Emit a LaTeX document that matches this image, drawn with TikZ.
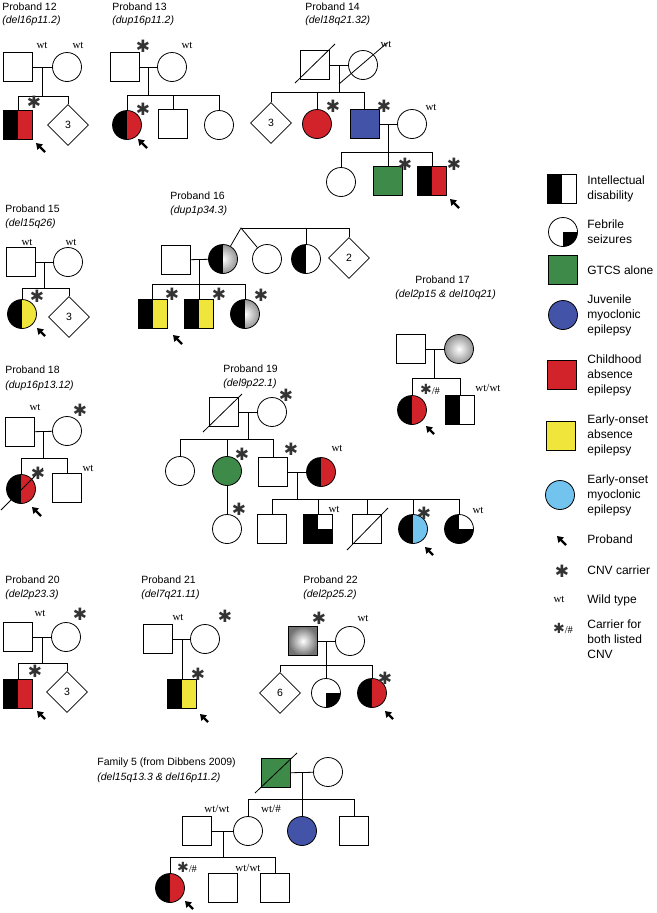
\documentclass[tikz,border=0pt]{standalone}
\usepackage{fontspec}
\setmainfont{Liberation Sans}
\newfontfamily\wtfont{Liberation Serif}
\newfontfamily\symfont{DejaVu Sans}
\usetikzlibrary{shapes.geometric,arrows.meta,calc}
\definecolor{cae}{HTML}{D2232A}
\definecolor{gtcs}{HTML}{3E8A48}
\definecolor{jme}{HTML}{4253A8}
\definecolor{eoae}{HTML}{F0E53A}
\definecolor{eome}{HTML}{72C3EE}
\definecolor{astc}{HTML}{333333}
\newcommand{\AST}{{\symfont\color{astc}✱}}
\newcommand{\ASTH}{{\symfont\fontsize{14}{14}\selectfont\color{astc}✱}{\wtfont\fontsize{10.5}{12}\selectfont/\#}}
\begin{document}
\begin{tikzpicture}[x=1pt,y=-1pt,line width=0.8pt,
  ind/.style={draw, line width=0.8pt, inner sep=0pt, minimum size=29pt, font=\fontsize{10.5}{12}\selectfont},
  sq/.style={ind, rectangle},
  ci/.style={ind, circle},
  di/.style={ind, diamond, minimum size=41pt},
  halves/.style 2 args={path picture={
     \fill[#1] (path picture bounding box.south west) rectangle (path picture bounding box.north);
     \fill[#2] (path picture bounding box.south) rectangle (path picture bounding box.north east);}},
  quart/.style={path picture={
     \fill[black] (path picture bounding box.center) rectangle (path picture bounding box.south east);}},
  idfeb/.style={path picture={
     \fill[black] (path picture bounding box.south west) rectangle (path picture bounding box.north);
     \fill[black] (path picture bounding box.center) rectangle (path picture bounding box.south east);}},
  leftgray/.style={path picture={
     \shade[inner color=white, outer color=gray!85] (path picture bounding box.south west) rectangle (path picture bounding box.north east);
     \fill[black] (path picture bounding box.south west) rectangle (path picture bounding box.north);}},
  ttl/.style={anchor=base west, inner sep=0pt, font=\fontsize{10.5}{12}\selectfont},
  cnv/.style={anchor=base west, inner sep=0pt, font=\fontsize{10.5}{12}\selectfont\itshape},
  wt/.style={inner sep=0pt, font=\wtfont\fontsize{11}{12}\selectfont},
  ast/.style={inner sep=0pt, font=\fontsize{17}{17}\selectfont},
  lg/.style={anchor=west, align=left, inner sep=0pt, font=\fontsize{12}{15}\selectfont},
  parrow/.style={line width=2.4pt, -{Triangle[length=6pt,width=7.5pt]}}
]
\useasboundingbox (0,0) rectangle (656,913);

% ---------------- Proband 12
\node[ttl] (t12) at (2,10) {Proband 12};
\node[cnv] (v12) at (2,23.5) {(del16p11.2)};
\node[sq] (f12) at (18,67) {};
\node[ci] (m12) at (67,67) {};
\node[wt] (w12a) at (42,45) {wt};
\node[wt] (w12b) at (78,45) {wt};
\draw (f12) -- (m12);
\coordinate (j12) at (42.5,67); \coordinate (s12) at (42.5,96);
\draw (j12) -- (s12);
\node[sq, halves={black}{cae}] (c12a) at (18,125) {};
\node[di] (c12b) at (68,125) {3};
\draw (c12a) -- (c12a|-s12) -- (c12b|-s12) -- (c12b);
\node[ast] (a12) at (34,102) {\AST};
\draw[parrow] (45,152) -- (36,143);

% ---------------- Proband 13
\node[ttl] (t13) at (112,10) {Proband 13};
\node[cnv] (v13) at (112,23.5) {(dup16p11.2)};
\node[sq] (f13) at (124.5,67) {};
\node[ci] (m13) at (172,67) {};
\node[ast] (a13a) at (143,46) {\AST};
\node[wt] (w13) at (187,45) {wt};
\draw (f13) -- (m13);
\coordinate (j13) at (148.5,67); \coordinate (s13) at (148.5,95);
\draw (j13) -- (s13);
\node[ci, halves={black}{cae}] (c13a) at (127,125) {};
\node[sq] (c13b) at (173,124) {};
\node[ci] (c13c) at (219,125) {};
\draw (c13a) -- (c13a|-s13) -- (c13c|-s13) -- (c13c);
\draw (c13b) -- (c13b|-s13);
\node[ast] (a13b) at (143,109) {\AST};
\draw[parrow] (147,148) -- (138,139);

% ---------------- Proband 14
\node[ttl] (t14) at (305,10) {Proband 14};
\node[cnv] (v14) at (305,23.5) {(del18q21.32)};
\node[sq] (f14) at (315,65) {};
\node[ci] (m14) at (363,65) {};
\draw ($(f14)+(-20,18)$) -- ($(f14)+(20,-21)$);
\draw ($(m14)+(-24,19)$) -- ($(m14)+(24,-22)$);
\node[wt] (w14a) at (386,44) {wt};
\draw (f14) -- (m14);
\coordinate (j14) at (339,65); \coordinate (s14) at (339,92);
\draw (j14) -- (s14);
\node[di] (c14a) at (271,123) {3};
\node[ci, fill=cae] (c14b) at (317,124) {};
\node[sq, fill=jme] (c14c) at (364.5,124) {};
\draw (c14a) -- (c14a|-s14) -- (c14c|-s14) -- (c14c);
\draw (c14b) -- (c14b|-s14);
\node[ast] (a14b) at (333,106) {\AST};
\node[ast] (a14c) at (384,106) {\AST};
\node[ci] (p14) at (412,124) {};
\node[wt] (w14b) at (431,107) {wt};
\draw (c14c) -- (p14);
\coordinate (j14b) at (388,124); \coordinate (s14b) at (388,152);
\draw (j14b) -- (s14b);
\node[ci] (g14a) at (341,182) {};
\node[sq, fill=gtcs] (g14b) at (388,181) {};
\node[sq, halves={black}{cae}] (g14c) at (432,181) {};
\draw (g14a) -- (g14a|-s14b) -- (g14c|-s14b) -- (g14c);
\draw (g14b) -- (g14b|-s14b);
\node[ast] (a14d) at (405,164) {\AST};
\node[ast] (a14e) at (454,164) {\AST};
\draw[parrow] (459,208) -- (450,199);

% ---------------- Proband 15
\node[ttl] (t15) at (5,212) {Proband 15};
\node[cnv] (v15) at (5,226) {(del15q26)};
\node[sq] (f15) at (21,262) {};
\node[ci] (m15) at (68,262) {};
\node[wt] (w15a) at (27,242) {wt};
\node[wt] (w15b) at (71,242) {wt};
\draw (f15) -- (m15);
\coordinate (j15) at (44.5,262); \coordinate (s15) at (44.5,288);
\draw (j15) -- (s15);
\node[ci, halves={black}{eoae}] (c15a) at (22,314) {};
\node[di] (c15b) at (69,317) {3};
\draw (c15a) -- (c15a|-s15) -- (c15b|-s15) -- (c15b);
\node[ast] (a15) at (37,296) {\AST};
\draw[parrow] (45,336) -- (37,328);

% ---------------- Proband 16
\node[ttl] (t16) at (170,199) {Proband 16};
\node[cnv] (v16) at (170,213) {(dup1p34.3)};
\node[sq] (f16) at (175.5,260) {};
\node[ci, leftgray] (w16) at (223,259) {};
\draw (f16) -- (w16);
\coordinate (j16) at (199,260); \coordinate (s16) at (199,284);
\draw (j16) -- (s16);
\node[sq, halves={black}{eoae}] (c16a) at (152.5,314) {};
\node[sq, halves={black}{eoae}] (c16b) at (199,314) {};
\node[ci, leftgray] (c16c) at (245,314) {};
\draw (c16a) -- (c16a|-s16) -- (c16c|-s16) -- (c16c);
\draw (c16b) -- (c16b|-s16);
\node[ast] (a16a) at (172,294) {\AST};
\node[ast] (a16b) at (219,294) {\AST};
\node[ast] (a16c) at (261,295) {\AST};
\draw[parrow] (182,344) -- (173,335);
\coordinate (tw16) at (241,228);
\node[ci] (o16) at (267,259) {};
\node[ci, halves={black}{white}] (h16) at (306,259) {};
\node[di] (d16) at (349,258) {2};
\draw (w16) -- (tw16) -- (o16);
\draw (tw16) -- (d16|-tw16) -- (d16);
\draw (h16) -- (h16|-tw16);

% ---------------- Proband 17
\node[ttl] (t17) at (415,283) {Proband 17};
\node[cnv] (v17) at (395,297) {(del2p15 \& del10q21)};
\node[sq] (f17) at (411,349) {};
\node[ci, inner color=white, outer color=gray!85] (m17) at (459,349) {};
\draw (f17) -- (m17);
\coordinate (j17) at (434.5,349); \coordinate (s17) at (434.5,378);
\draw (j17) -- (s17);
\node[ci, halves={black}{cae}] (c17a) at (412,410) {};
\node[sq, halves={black}{white}] (c17b) at (460,410) {};
\draw (c17a) -- (c17a|-s17) -- (c17b|-s17) -- (c17b);
\node[inner sep=0pt] (a17) at (430,389) {\ASTH};
\node[wt] (w17) at (488,388) {wt/wt};
\draw[parrow] (434,434) -- (426,426);

% ---------------- Proband 18
\node[ttl] (t18) at (5,373) {Proband 18};
\node[cnv] (v18) at (5,388) {(dup16p13.12)};
\node[sq] (f18) at (20,432) {};
\node[ci] (m18) at (67,431) {};
\node[wt] (w18a) at (35,407) {wt};
\node[ast] (a18a) at (80,410) {\AST};
\draw (f18) -- (m18);
\coordinate (j18) at (43.5,431); \coordinate (s18) at (43.5,458);
\draw (j18) -- (s18);
\node[ci, halves={black}{cae}] (c18a) at (21,489) {};
\node[sq] (c18b) at (67,488) {};
\draw (c18a) -- (c18a|-s18) -- (c18b|-s18) -- (c18b);
\draw ($(c18a)+(-20,21)$) -- ($(c18a)+(22,-21)$);
\node[ast] (a18b) at (38,473) {\AST};
\node[wt] (w18b) at (88,468) {wt};
\draw[parrow] (41,516) -- (32,507);

% ---------------- Proband 19
\node[ttl] (t19) at (223,372) {Proband 19};
\node[cnv] (v19) at (223,386) {(del9p22.1)};
\node[sq] (f19) at (224,412) {};
\node[ci] (m19) at (272,412) {};
\draw ($(f19)+(-21,20)$) -- ($(f19)+(18,-18)$);
\node[ast] (a19a) at (286,395) {\AST};
\draw (f19) -- (m19);
\coordinate (j19) at (248,412); \coordinate (s19) at (248,439);
\draw (j19) -- (s19);
\node[ci] (c19a) at (180,471) {};
\node[ci, fill=gtcs] (c19b) at (227,471) {};
\node[sq] (c19c) at (273,472) {};
\draw (c19a) -- (c19a|-s19) -- (c19c|-s19) -- (c19c);
\draw (c19b) -- (c19b|-s19);
\node[ast] (a19b) at (242,454) {\AST};
\node[ast] (a19c) at (291,449) {\AST};
\node[ci] (g19) at (227,529) {};
\draw (c19b) -- (g19);
\node[ast] (a19d) at (239,509) {\AST};
\node[ci, halves={black}{cae}] (s19p) at (321,472) {};
\node[wt] (w19a) at (337,448) {wt};
\draw (c19c) -- (s19p);
\coordinate (j19b) at (297,472); \coordinate (s19b) at (297,499);
\draw (j19b) -- (s19b);
\node[sq] (gA) at (272,529) {};
\node[sq, idfeb] (gB) at (318,529) {};
\node[sq] (gC) at (367,529) {};
\node[ci, halves={black}{eome}] (gD) at (413,529) {};
\node[ci, idfeb] (gE) at (459,529) {};
\draw (gA) -- (gA|-s19b) -- (gE|-s19b) -- (gE);
\draw (gB) -- (gB|-s19b);
\draw (gC) -- (gC|-s19b);
\draw (gD) -- (gD|-s19b);
\draw ($(gC)+(-20,21)$) -- ($(gC)+(21,-21)$);
\node[wt] (w19b) at (334,509) {wt};
\node[ast] (a19e) at (424,513) {\AST};
\node[wt] (w19c) at (478,510) {wt};
\draw[parrow] (433,555) -- (425,547);

% ---------------- Proband 20
\node[ttl] (t20) at (5,583) {Proband 20};
\node[cnv] (v20) at (5,597) {(del2p23.3)};
\node[sq] (f20) at (18,637) {};
\node[ci] (m20) at (66,637) {};
\node[wt] (w20) at (40,613) {wt};
\node[ast] (a20a) at (80,614) {\AST};
\draw (f20) -- (m20);
\coordinate (j20) at (42.5,637); \coordinate (s20) at (42.5,663);
\draw (j20) -- (s20);
\node[sq, halves={black}{cae}] (c20a) at (18,694) {};
\node[di] (c20b) at (67,692) {3};
\draw (c20a) -- (c20a|-s20) -- (c20b|-s20) -- (c20b);
\node[ast] (a20b) at (35,671) {\AST};
\draw[parrow] (45,719) -- (37,711);

% ---------------- Proband 21
\node[ttl] (t21) at (141,583) {Proband 21};
\node[cnv] (v21) at (141,597) {(del7q21.11)};
\node[sq] (f21) at (158,639) {};
\node[ci] (m21) at (205,639) {};
\node[wt] (w21) at (178,617) {wt};
\node[ast] (a21a) at (225,616) {\AST};
\draw (f21) -- (m21);
\coordinate (j21) at (182,639);
\node[sq, halves={black}{eoae}] (c21) at (182,694) {};
\draw (j21) -- (c21);
\node[ast] (a21b) at (198,674) {\AST};
\draw[parrow] (208,722) -- (200,714);

% ---------------- Proband 22
\node[ttl] (t22) at (303,583) {Proband 22};
\node[cnv] (v22) at (303,597) {(del2p25.2)};
\node[sq, inner color=white, outer color=gray!90!black] (f22) at (303,641) {};
\node[ci] (m22) at (350,641) {};
\node[ast] (a22a) at (319,618) {\AST};
\node[wt] (w22) at (363,618) {wt};
\draw (f22) -- (m22);
\coordinate (j22) at (326,641); \coordinate (s22) at (326,665);
\draw (j22) -- (s22);
\node[di] (c22a) at (280,693) {6};
\node[ci, quart] (c22b) at (326,693) {};
\node[ci, halves={black}{cae}] (c22c) at (372,693) {};
\draw (c22a) -- (c22a|-s22) -- (c22c|-s22) -- (c22c);
\draw (c22b) -- (c22b|-s22);
\node[ast] (a22b) at (385,678) {\AST};
\draw[parrow] (393,719) -- (385,711);

% ---------------- Family 5
\node[ttl] (t5) at (97,765) {Family 5 (from Dibbens 2009)};
\node[cnv] (v5) at (97,780) {(del15q13.3 \& del16p11.2)};
\node[sq, fill=gtcs] (gf5) at (276,773) {};
\node[ci] (gm5) at (328,772) {};
\draw ($(gf5)+(-21,20)$) -- ($(gf5)+(21,-20)$);
\draw (gf5) -- (gm5);
\coordinate (j5) at (302,772); \coordinate (s5) at (302,799);
\draw (j5) -- (s5);
\node[ci] (ch51) at (248,831) {};
\node[ci, fill=jme] (ch52) at (302,831) {};
\node[sq] (ch53) at (354,831) {};
\draw (ch51) -- (ch51|-s5) -- (ch53|-s5) -- (ch53);
\draw (ch52) -- (ch52|-s5);
\node[wt] (w5a) at (271,809) {wt/\#};
\node[sq] (h5) at (197,831) {};
\node[wt] (w5b) at (217,809) {wt/wt};
\draw (h5) -- (ch51);
\coordinate (j5b) at (223,831); \coordinate (s5b) at (223,857);
\draw (j5b) -- (s5b);
\node[ci, halves={black}{cae}] (p5) at (170,888) {};
\node[sq] (gk52) at (223,888) {};
\node[sq] (gk53) at (275,888) {};
\draw (p5) -- (p5|-s5b) -- (gk53|-s5b) -- (gk53);
\node[inner sep=0pt] (a5) at (187,867) {\ASTH};
\node[wt] (w5c) at (248,868) {wt/wt};
\draw[parrow] (193,909) -- (185,901);

% ---------------- Legend
\node[sq, halves={black}{white}] (L1) at (562,189) {};
\node[lg] (L1t) at (587,189) {Intellectual\\disability};
\node[ci, quart] (L2) at (563,232) {};
\node[lg] (L2t) at (587,232) {Febrile\\seizures};
\node[sq, fill=gtcs] (L3) at (563,270) {};
\node[lg] (L3t) at (587,270) {GTCS alone};
\node[ci, fill=jme] (L4) at (563,315) {};
\node[lg] (L4t) at (587,315) {Juvenile\\myoclonic\\epilepsy};
\node[sq, fill=cae] (L5) at (562,375) {};
\node[lg] (L5t) at (587,375) {Childhood\\absence\\epilepsy};
\node[sq, fill=eoae] (L6) at (561,436) {};
\node[lg] (L6t) at (587,435) {Early-onset\\absence\\epilepsy};
\node[ci, fill=eome] (L7) at (560,495) {};
\node[lg] (L7t) at (587,495) {Early-onset\\myoclonic\\epilepsy};
\coordinate (L8) at (560,539);
\draw[parrow] (566,545) -- (557,536);
\node[lg] (L8t) at (587,539) {Proband};
\node[ast] (L9) at (562,571) {\AST};
\node[lg] (L9t) at (587,570) {CNV carrier};
\node[wt] (L10) at (559,599) {wt};
\node[lg] (L10t) at (587,600) {Wild type};
\node[inner sep=0pt] (L11) at (563,628) {\ASTH};
\node[lg, anchor=north west] (L11t) at (587,619) {Carrier for\\both listed\\CNV};
\end{tikzpicture}
\end{document}
